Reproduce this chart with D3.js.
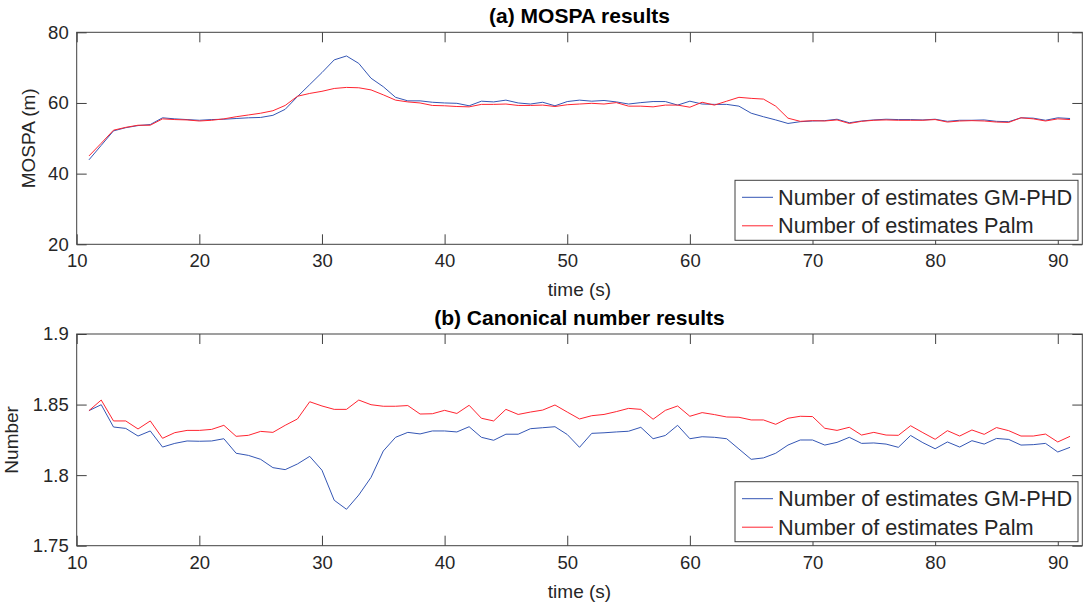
<!DOCTYPE html>
<html>
<head>
<meta charset="utf-8">
<script src="https://cdn.jsdelivr.net/npm/d3@7/dist/d3.min.js"></script>
<style>
  html, body { margin: 0; padding: 0; background: #fff; }
  svg { display: block; font-family: "Liberation Sans", Arial, sans-serif; }
</style>
</head>
<body>
<div id="chart"></div>
<script>
// time steps (s)
const time = [11, 12, 13, 14, 15, 16, 17, 18, 19, 20, 21, 22, 23, 24, 25, 26, 27, 28, 29, 30,
  31, 32, 33, 34, 35, 36, 37, 38, 39, 40, 41, 42, 43, 44, 45, 46, 47, 48, 49, 50,
  51, 52, 53, 54, 55, 56, 57, 58, 59, 60, 61, 62, 63, 64, 65, 66, 67, 68, 69, 70,
  71, 72, 73, 74, 75, 76, 77, 78, 79, 80, 81, 82, 83, 84, 85, 86, 87, 88, 89, 90, 91];

// (a) MOSPA
const mospaGmphd = [43.9, 48.0, 52.1, 53.0, 53.6, 53.9, 55.8, 55.5, 55.3, 55.1,
  55.3, 55.4, 55.6, 55.8, 55.9, 56.5, 58.2, 61.8, 65.2, 68.6,
  72.2, 73.3, 71.2, 67.0, 64.6, 61.6, 60.6, 60.6, 60.2, 60.0,
  59.9, 59.2, 60.5, 60.3, 60.8, 60.0, 59.7, 60.2, 59.2, 60.4,
  60.8, 60.5, 60.7, 60.3, 59.7, 60.1, 60.4, 60.4, 59.4, 60.5,
  59.7, 59.6, 59.6, 59.1, 57.1, 56.1, 55.2, 54.2, 54.7, 54.9,
  55.0, 55.4, 54.4, 54.9, 55.2, 55.4, 55.3, 55.3, 55.2, 55.4,
  54.8, 55.1, 55.1, 55.2, 54.8, 54.7, 55.8, 55.7, 55.1, 55.8, 55.6];
const mospaPalm = [45.0, 48.6, 52.3, 53.1, 53.7, 53.7, 55.5, 55.3, 55.2, 54.9,
  55.1, 55.5, 56.1, 56.6, 57.1, 57.8, 59.3, 61.9, 62.7, 63.3,
  64.1, 64.4, 64.3, 63.7, 62.3, 60.8, 60.3, 60.0, 59.3, 59.2,
  59.0, 58.9, 59.6, 59.6, 59.7, 59.3, 59.3, 59.4, 59.0, 59.5,
  59.7, 59.9, 59.7, 60.1, 59.1, 59.1, 58.9, 59.4, 59.4, 58.8,
  60.2, 59.4, 60.5, 61.6, 61.3, 61.1, 59.1, 55.7, 54.8, 55.0,
  54.9, 55.2, 54.2, 54.8, 55.1, 55.2, 55.1, 55.1, 55.1, 55.3,
  54.6, 54.9, 55.0, 54.9, 54.6, 54.5, 55.8, 55.5, 54.9, 55.5, 55.3];

// (b) canonical number
const cardGmphd = [1.8457, 1.8499, 1.8341, 1.8331, 1.8277, 1.8313, 1.8199, 1.8225, 1.8242, 1.8240,
  1.8242, 1.8258, 1.8155, 1.8140, 1.8112, 1.8053, 1.8039, 1.8079, 1.8133, 1.8035,
  1.7822, 1.7758, 1.7859, 1.7984, 1.8171, 1.8268, 1.8303, 1.8292, 1.8313, 1.8313,
  1.8306, 1.8343, 1.8268, 1.8247, 1.8290, 1.8290, 1.8329, 1.8336, 1.8343, 1.8288,
  1.8197, 1.8296, 1.8300, 1.8306, 1.8311, 1.8339, 1.8258, 1.8281, 1.8353, 1.8258,
  1.8272, 1.8268, 1.8258, 1.8185, 1.8112, 1.8122, 1.8155, 1.8213, 1.8249, 1.8249,
  1.8213, 1.8232, 1.8268, 1.8225, 1.8228, 1.8220, 1.8197, 1.8281, 1.8230, 1.8187,
  1.8235, 1.8199, 1.8244, 1.8220, 1.8260, 1.8253, 1.8213, 1.8216, 1.8225, 1.8164, 1.8197];
const cardPalm = [1.8457, 1.8532, 1.8384, 1.8384, 1.8327, 1.8384, 1.8261, 1.8301, 1.8317, 1.8317,
  1.8324, 1.8353, 1.8275, 1.8282, 1.8310, 1.8303, 1.8353, 1.8398, 1.8520, 1.8490,
  1.8466, 1.8466, 1.8532, 1.8499, 1.8488, 1.8488, 1.8493, 1.8433, 1.8435, 1.8459,
  1.8437, 1.8495, 1.8403, 1.8384, 1.8466, 1.8430, 1.8447, 1.8461, 1.8497, 1.8447,
  1.8398, 1.8421, 1.8430, 1.8450, 1.8473, 1.8466, 1.8396, 1.8459, 1.8490, 1.8417,
  1.8443, 1.8429, 1.8412, 1.8410, 1.8391, 1.8391, 1.8360, 1.8403, 1.8417, 1.8415,
  1.8332, 1.8317, 1.8339, 1.8284, 1.8303, 1.8284, 1.8282, 1.8350, 1.8301, 1.8254,
  1.8315, 1.8277, 1.8320, 1.8289, 1.8337, 1.8315, 1.8277, 1.8277, 1.8291, 1.8235, 1.8275];

const xTicks = [10, 20, 30, 40, 50, 60, 70, 80, 90];
const mospaTicks = [20, 40, 60, 80];
const cardTicks = [1.75, 1.8, 1.85, 1.9];
const seriesNames = ["Number of estimates GM-PHD", "Number of estimates Palm"];

// 样式
const W = 1086, H = 605;
const LEFT = 76.7, RIGHT = 1082.3;
const TEXT = "#262626", AXIS = "#404040";
const COLORS = ["#3456b4", "#ff2430"];

const svg = d3.select("#chart").append("svg")
  .attr("width", W).attr("height", H);

const x = d3.scaleLinear().domain([10, 92]).range([LEFT, RIGHT]);

function drawPanel(cfg) {
  const y = d3.scaleLinear().domain(cfg.domain).range([cfg.bottom, cfg.top]);
  const g = svg.append("g");
  const tick = 10;

  // lines (clipped to box)
  const clipId = "clip-" + cfg.id;
  svg.append("clipPath").attr("id", clipId)
    .append("rect")
    .attr("x", LEFT).attr("y", cfg.top)
    .attr("width", RIGHT - LEFT).attr("height", cfg.bottom - cfg.top);

  const line = d3.line().x((d, i) => x(time[i])).y(d => y(d));
  cfg.series.forEach((s, k) => {
    g.append("path")
      .datum(s)
      .attr("clip-path", `url(#${clipId})`)
      .attr("fill", "none")
      .attr("stroke", COLORS[k])
      .attr("stroke-width", 1)
      .attr("stroke-linejoin", "round")
      .attr("d", line);
  });

  // axes: bottom / left with inward ticks, mirrored on top / right
  g.append("g")
    .attr("transform", `translate(0,${cfg.bottom})`)
    .call(d3.axisBottom(x).tickValues(xTicks).tickSizeInner(-tick).tickSizeOuter(0).tickPadding(10))
    .call(a => a.select(".domain").remove());
  g.append("g")
    .attr("transform", `translate(0,${cfg.top})`)
    .call(d3.axisTop(x).tickValues(xTicks).tickSizeInner(-tick).tickSizeOuter(0).tickFormat(""))
    .call(a => a.select(".domain").remove());
  g.append("g")
    .attr("transform", `translate(${LEFT},0)`)
    .call(d3.axisLeft(y).tickValues(cfg.ticks).tickSizeInner(-tick).tickSizeOuter(0).tickPadding(8).tickFormat(d3.format("")))
    .call(a => a.select(".domain").remove());
  g.append("g")
    .attr("transform", `translate(${RIGHT},0)`)
    .call(d3.axisRight(y).tickValues(cfg.ticks).tickSizeInner(-tick).tickSizeOuter(0).tickFormat(""))
    .call(a => a.select(".domain").remove());

  g.selectAll(".tick line").attr("stroke", AXIS);
  g.selectAll(".tick text")
    .attr("fill", TEXT)
    .style("font-size", "18.5px")
    .style("font-family", "'Liberation Sans', Arial, sans-serif");

  g.append("rect")
    .attr("x", LEFT).attr("y", cfg.top)
    .attr("width", RIGHT - LEFT).attr("height", cfg.bottom - cfg.top)
    .attr("fill", "none").attr("stroke", AXIS).attr("stroke-width", 1);

  // titles
  g.append("text")
    .attr("x", (LEFT + RIGHT) / 2).attr("y", cfg.top - 9.5)
    .attr("text-anchor", "middle")
    .attr("font-size", 21).attr("font-weight", "bold")
    .attr("fill", "#000")
    .text(cfg.title);
  g.append("text")
    .attr("x", (LEFT + RIGHT) / 2).attr("y", cfg.bottom + 52)
    .attr("text-anchor", "middle")
    .attr("font-size", 19).attr("fill", TEXT)
    .text("time (s)");
  g.append("text")
    .attr("transform", `translate(${cfg.ylabelX},${(cfg.top + cfg.bottom) / 2}) rotate(-90)`)
    .attr("text-anchor", "middle")
    .attr("font-size", 19).attr("fill", TEXT)
    .text(cfg.ylabel);

  // legend
  const lx = 735, ly = cfg.bottom - 64, lw = 343, lh = 60;
  const leg = g.append("g");
  leg.append("rect")
    .attr("x", lx).attr("y", ly).attr("width", lw).attr("height", lh)
    .attr("fill", "#fff").attr("stroke", AXIS).attr("stroke-width", 1);
  seriesNames.forEach((name, k) => {
    const cy = ly + 17 + k * 28.5;
    leg.append("line")
      .attr("x1", lx + 7).attr("x2", lx + 38)
      .attr("y1", cy).attr("y2", cy)
      .attr("stroke", COLORS[k]).attr("stroke-width", 1);
    leg.append("text")
      .attr("x", lx + 43).attr("y", cy + 7.5)
      .attr("font-size", 21.7).attr("fill", TEXT)
      .text(name);
  });
}

drawPanel({
  id: "a", top: 32.3, bottom: 244.3, domain: [20, 80], ticks: mospaTicks,
  series: [mospaGmphd, mospaPalm], title: "(a) MOSPA results",
  ylabel: "MOSPA (m)", ylabelX: 35
});
drawPanel({
  id: "b", top: 334, bottom: 545.7, domain: [1.75, 1.9], ticks: cardTicks,
  series: [cardGmphd, cardPalm], title: "(b) Canonical number results",
  ylabel: "Number", ylabelX: 18
});
</script>
</body>
</html>
